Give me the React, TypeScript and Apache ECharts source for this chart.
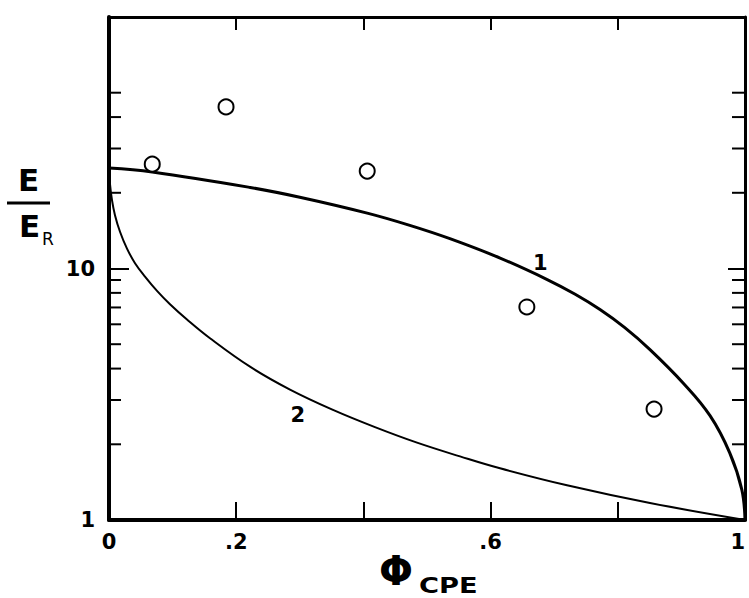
import React, { useEffect, useRef } from 'react';
import * as echarts from 'echarts';

// Curve 1 (upper curve)
const curve1X = [0, 0.068, 0.222, 0.3, 0.406, 0.473, 0.536, 0.615, 0.689, 0.733, 0.772, 0.811, 0.851, 0.903, 0.945, 0.976, 0.995, 1];
const curve1Y = [25.1, 24.2, 21.0, 19.2, 16.6, 14.84, 13.14, 11.0, 9.04, 7.9, 6.87, 5.82, 4.75, 3.5, 2.6, 1.85, 1.32, 1];

// Curve 2 (lower curve)
const curve2X = [0, 0.0016, 0.0047, 0.0094, 0.0173, 0.0283, 0.0409, 0.0566, 0.0755, 0.0959, 0.1226, 0.1588, 0.2217, 0.2846, 0.3522, 0.4182, 0.4843, 0.5519, 0.6148, 0.7201, 0.8506, 1];
const curve2Y = [25.0, 21.6, 18.7, 16.3, 14.0, 12.0, 10.5, 9.29, 8.15, 7.21, 6.27, 5.28, 4.07, 3.3, 2.74, 2.34, 2.03, 1.79, 1.605, 1.374, 1.168, 1];

// Measured points (open circles)
const pointsX = [0.068, 0.184, 0.406, 0.657, 0.857];
const pointsY = [26.0, 43.9, 24.4, 7.03, 2.76];

// Curve labels
const curveLabelX = [0.678, 0.297];
const curveLabelY = [10.5, 2.61];
const curveLabelText = ['1', '2'];

// Axis ticks / labels
const xTickLabels: Record<string, string> = { '0': '0', '0.2': '.2', '0.6': '.6', '1': '1' };
const yTickLabels: Record<string, string> = { '1': '1', '10': '10' };
const minorTicksY = [2, 3, 4, 5, 6, 7, 8, 9, 20, 30, 40, 50];

const FONT = "'DejaVu Sans', 'Liberation Sans', Arial, sans-serif";

export default function App() {
  const ref = useRef<HTMLDivElement>(null);

  useEffect(() => {
    if (!ref.current) return;
    const chart = echarts.init(ref.current, null, { renderer: 'svg' });

    const axisText = { color: '#000', fontSize: 21, fontWeight: 'bold' as const, fontFamily: FONT };

    const option: any = {
      animation: false,
      backgroundColor: '#fff',
      grid: { left: 109, right: 4, top: 17, bottom: 78, containLabel: false, outerBoundsMode: 'none' },
      xAxis: [
        {
          type: 'value',
          position: 'bottom',
          min: 0,
          max: 1,
          interval: 0.2,
          splitLine: { show: false },
          axisLine: { show: true, onZero: false, lineStyle: { color: '#000', width: 4 } },
          axisTick: { show: true, inside: true, length: 18, lineStyle: { color: '#000', width: 2 } },
          axisLabel: {
            show: true,
            margin: 11,
            showMinLabel: true,
            showMaxLabel: true,
            alignMaxLabel: 'right',
            ...axisText,
            formatter: (v: number) => {
              const k = String(Math.round(v * 10) / 10);
              return xTickLabels[k] ?? '';
            },
          },
        },
        {
          type: 'value',
          position: 'top',
          min: 0,
          max: 1,
          interval: 0.2,
          splitLine: { show: false },
          axisLine: { show: true, onZero: false, lineStyle: { color: '#000', width: 3 } },
          axisTick: { show: true, inside: true, length: 13, lineStyle: { color: '#000', width: 2 } },
          axisLabel: { show: false },
        },
      ],
      yAxis: [
        {
          type: 'log',
          logBase: 10,
          position: 'left',
          min: 1,
          max: 100,
          splitLine: { show: false },
          axisLine: { show: true, onZero: false, lineStyle: { color: '#000', width: 4 } },
          axisTick: { show: true, inside: true, length: 20, lineStyle: { color: '#000', width: 2 } },
          axisLabel: {
            show: true,
            margin: 14,
            showMinLabel: true,
            showMaxLabel: true,
            ...axisText,
            formatter: (v: number) => yTickLabels[String(Math.round(v))] ?? '',
          },
        },
        {
          type: 'log',
          logBase: 10,
          position: 'right',
          min: 1,
          max: 100,
          splitLine: { show: false },
          axisLine: { show: true, onZero: false, lineStyle: { color: '#000', width: 3 } },
          axisTick: { show: true, inside: true, length: 17, lineStyle: { color: '#000', width: 2 } },
          axisLabel: { show: false },
        },
      ],
      series: [
        {
          type: 'line',
          xAxisIndex: 0,
          yAxisIndex: 0,
          data: curve1X.map((x, i) => [x, curve1Y[i]]),
          showSymbol: false,
          smooth: 0.4,
          lineStyle: { color: '#000', width: 3 },
          z: 2,
        },
        {
          type: 'line',
          xAxisIndex: 0,
          yAxisIndex: 0,
          data: curve2X.map((x, i) => [x, curve2Y[i]]),
          showSymbol: false,
          smooth: 0.4,
          lineStyle: { color: '#000', width: 2 },
          z: 2,
        },
        {
          type: 'scatter',
          xAxisIndex: 0,
          yAxisIndex: 0,
          data: pointsX.map((x, i) => [x, pointsY[i]]),
          symbol: 'circle',
          symbolSize: 15,
          itemStyle: { color: '#fff', borderColor: '#000', borderWidth: 2, opacity: 1 },
          z: 5,
        },
        {
          type: 'custom',
          xAxisIndex: 0,
          yAxisIndex: 0,
          clip: false,
          data: curveLabelX.map((x, i) => [x, curveLabelY[i]]),
          renderItem: (params: any, api: any) => {
            const p = api.coord([api.value(0), api.value(1)]);
            return {
              type: 'text',
              x: p[0],
              y: p[1],
              style: {
                text: curveLabelText[params.dataIndex],
                fill: '#000',
                font: `bold 21px ${FONT}`,
                textAlign: 'center',
                textVerticalAlign: 'middle',
              },
            };
          },
          z: 6,
        },
        {
          type: 'custom',
          xAxisIndex: 0,
          yAxisIndex: 0,
          clip: false,
          data: minorTicksY.map((v) => [0, v]),
          renderItem: (params: any, api: any) => {
            const v = api.value(1);
            const l = api.coord([0, v]);
            const r = api.coord([1, v]);
            return {
              type: 'group',
              children: [
                {
                  type: 'line',
                  shape: { x1: l[0], y1: l[1], x2: l[0] + 12, y2: l[1] },
                  style: { stroke: '#000', lineWidth: 2 },
                },
                {
                  type: 'line',
                  shape: { x1: r[0], y1: r[1], x2: r[0] - 13, y2: r[1] },
                  style: { stroke: '#000', lineWidth: 2 },
                },
              ],
            };
          },
          z: 3,
        },
      ],
      graphic: [
        {
          type: 'text',
          x: 18,
          y: 180,
          style: { text: 'E', fill: '#000', font: `bold 31px ${FONT}`, textAlign: 'left', textVerticalAlign: 'middle' },
        },
        {
          type: 'line',
          shape: { x1: 7, y1: 203, x2: 50, y2: 203 },
          style: { stroke: '#000', lineWidth: 3 },
        },
        {
          type: 'text',
          x: 19,
          y: 226,
          style: { text: 'E', fill: '#000', font: `bold 31px ${FONT}`, textAlign: 'left', textVerticalAlign: 'middle' },
        },
        {
          type: 'text',
          x: 42,
          y: 239,
          style: { text: 'R', fill: '#000', font: `17px ${FONT}`, textAlign: 'left', textVerticalAlign: 'middle' },
        },
        {
          type: 'text',
          x: 396,
          y: 571,
          style: { text: 'Φ', fill: '#000', font: `bold 40px ${FONT}`, textAlign: 'center', textVerticalAlign: 'middle' },
        },
        {
          type: 'text',
          x: 419,
          y: 586,
          scaleX: 1.3,
          style: { text: 'CPE', fill: '#000', font: `bold 21px ${FONT}`, textAlign: 'left', textVerticalAlign: 'middle' },
        },
      ],
    };

    chart.setOption(option);
    return () => chart.dispose();
  }, []);

  return (
    <div
      ref={ref}
      style={{ position: 'absolute', left: 0, top: 0, width: 749, height: 598, background: '#fff' }}
    />
  );
}
